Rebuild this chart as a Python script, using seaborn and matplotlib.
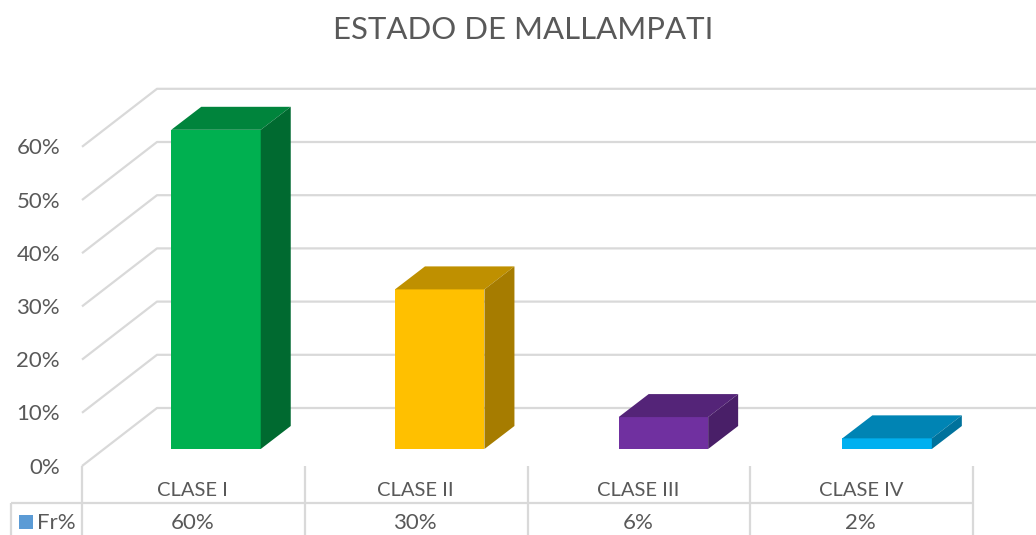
import matplotlib
matplotlib.use('Agg')
import matplotlib.pyplot as plt
from matplotlib.patches import Rectangle
import pandas as pd
import seaborn as sns

categories = ['CLASE I', 'CLASE II', 'CLASE III', 'CLASE IV']
values = [0.60, 0.30, 0.06, 0.02]
value_labels = ['60%', '30%', '6%', '2%']
y_ticks = [0, 0.1, 0.2, 0.3, 0.4, 0.5, 0.6]
y_tick_labels = ['0%', '10%', '20%', '30%', '40%', '50%', '60%']

front_colors = ['#00B050', '#FFC000', '#7030A0', '#00B0F0']
top_colors = ['#00843C', '#BF9000', '#542478', '#0084B4']
side_colors = ['#006A30', '#A67C00', '#491F68', '#00729C']

grid_color = '#D9D9D9'
text_color = '#595959'

W, H = 1036, 535
# pixel scale of the data
px_per_cat = 223.7
px_per_unit = 532.0
x0_px, y0_px = 216.0, 449.0


def dx(px):
    return px / px_per_cat


def dy(px):
    return px / px_per_unit


sns.set_style('white')
plt.rcParams['font.family'] = ['Lato', 'DejaVu Sans']

fig = plt.figure(figsize=(W / 100, H / 100), dpi=100)
ax = fig.add_axes([0, 0, 1, 1])

df = pd.DataFrame({'clase': categories, 'fr': values})
sns.barplot(data=df, x='clase', y='fr', hue='clase', order=categories,
            hue_order=categories, palette=front_colors, width=0.4,
            legend=False, saturation=1, linewidth=0, zorder=3, ax=ax)

ax.set_xlim(-x0_px / px_per_cat, (W - x0_px) / px_per_cat)
ax.set_ylim((y0_px - H) / px_per_unit, y0_px / px_per_unit)
ax.axis('off')

# 3d depth of the bars
depth_x, depth_y = dx(30), dy(23)
for bar, top_c, side_c in zip(ax.patches, top_colors, side_colors):
    l, r = bar.get_x(), bar.get_x() + bar.get_width()
    t = bar.get_height()
    ax.fill([l, r, r + depth_x, l + depth_x],
            [t, t, t + depth_y, t + depth_y], color=top_c, lw=0, zorder=3)
    ax.fill([r, r + depth_x, r + depth_x, r],
            [0, depth_y, t + depth_y, t], color=side_c, lw=0, zorder=3)

# walls: floor front corner, and the back wall behind it
front_x = dx(82 - x0_px)
front_off = dy(-17)
wall_dx, wall_dy = dx(75), dy(58)
line_kw = dict(color=grid_color, lw=1.6, zorder=1, solid_capstyle='butt')
for v, lab in zip(y_ticks, y_tick_labels):
    y = v + front_off
    ax.plot([front_x, front_x + wall_dx, dx(W - x0_px)],
            [y, y + wall_dy, y + wall_dy], **line_kw)
    ax.text(front_x - dx(22), y - dy(1.5), lab, ha='right', va='center',
            fontsize=16, color=text_color)

# data table under the chart
row_top = front_off
row_mid = dy(449 - 503)
row_bot = dy(449 - 535)
edges = [front_x + i * dx(222.8) for i in range(len(categories) + 1)]
for e in edges:
    ax.plot([e, e], [row_top, row_bot], **line_kw)
legend_l = dx(11 - x0_px)
ax.plot([legend_l, edges[-1]], [row_mid, row_mid], **line_kw)
ax.plot([legend_l, legend_l], [row_mid, row_bot], **line_kw)

for i, (c, lab) in enumerate(zip(categories, value_labels)):
    mid = (edges[i] + edges[i + 1]) / 2
    ax.text(mid - dx(1), dy(449 - 491), c, ha='center', va='center', fontsize=14.5, color=text_color)
    ax.text(mid - dx(1), dy(449 - 523), lab, ha='center', va='center', fontsize=16, color=text_color)

ax.add_patch(Rectangle((dx(19 - x0_px), dy(449 - 529)), dx(14), dy(14),
                       color='#5B9BD5', lw=0, zorder=3))
ax.text(dx(37 - x0_px), dy(449 - 523), 'Fr%', ha='left', va='center',
        fontsize=16, color=text_color)

ax.text(dx(523.5 - x0_px), dy(449 - 30), 'ESTADO DE MALLAMPATI', ha='center', va='center',
        fontsize=22.4, color=text_color)

fig.savefig('out.png', dpi=100)
